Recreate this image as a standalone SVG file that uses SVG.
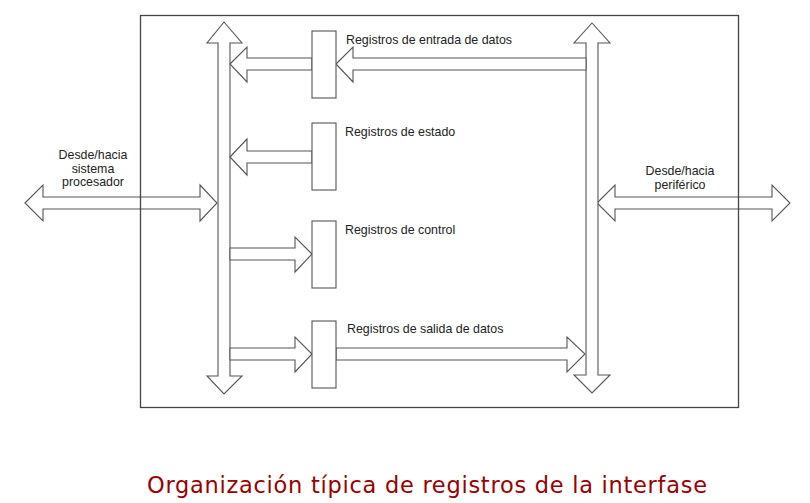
<svg xmlns="http://www.w3.org/2000/svg" width="810" height="503" viewBox="0 0 810 503">
<style>
.ar{fill:#fff;stroke:#555;stroke-width:1.1;stroke-linejoin:miter}
.box{fill:#fff;stroke:#555;stroke-width:1.1}
.frame{fill:none;stroke:#444;stroke-width:1.3}
.lbl{font-family:"Liberation Sans",Arial,sans-serif;font-size:12.4px;fill:#222}
.cap{font-family:"DejaVu Sans",Verdana,sans-serif;font-size:22.5px;fill:#990000}
</style>
<rect width="810" height="503" fill="#fff"/>
<g id="connectors">
<polygon class="ar" points="25,203 43,185 43,197 200,197 200,185 217,203 200,221 200,209 43,209 43,221"/>
<polygon class="ar" points="597,203 615,185 615,197 772,197 772,185 790,203 772,221 772,209 615,209 615,221"/>
<polygon class="ar" points="224,22 242,43 230,43 230,376 242,376 224,394 207,376 218,376 218,43 207,43"/>
<polygon class="ar" points="592,23 610,43 598,43 598,375 610,375 592,393 574,375 586,375 586,43 574,43"/>
<polygon class="ar" points="230,64 247,47 247,58 312,58 312,70 247,70 247,82"/>
<polygon class="ar" points="336,64 353,47 353,58 586,58 586,70 353,70 353,82"/>
<polygon class="ar" points="230,157 247,139 247,151 312,151 312,163 247,163 247,175"/>
<polygon class="ar" points="230,248 295,248 295,237 312,254 295,272 295,260 230,260"/>
<polygon class="ar" points="230,348 295,348 295,337 312,354 295,372 295,360 230,360"/>
<polygon class="ar" points="336,348 567,348 567,337 585,354 567,372 567,360 336,360"/>
</g>
<g id="reg-entrada"><rect class="box" x="312" y="31" width="24" height="67"/><text class="lbl" x="346" y="44">Registros de entrada de datos</text></g>
<g id="reg-estado"><rect class="box" x="312" y="123" width="24" height="67"/><text class="lbl" x="345" y="136">Registros de estado</text></g>
<g id="reg-control"><rect class="box" x="312" y="221" width="24" height="67"/><text class="lbl" x="345" y="234">Registros de control</text></g>
<g id="reg-salida"><rect class="box" x="312" y="321" width="24" height="67"/><text class="lbl" x="347" y="333">Registros de salida de datos</text></g>
<g id="proc-label"><text class="lbl" text-anchor="middle" x="93" y="159">Desde/hacia</text><text class="lbl" text-anchor="middle" x="93" y="172.5">sistema</text><text class="lbl" text-anchor="middle" x="93" y="186">procesador</text></g>
<g id="per-label"><text class="lbl" text-anchor="middle" x="680" y="175">Desde/hacia</text><text class="lbl" text-anchor="middle" x="680" y="189">periférico</text></g>
<g id="frame"><rect class="frame" x="140.5" y="15.5" width="598" height="392"/></g>
<text class="cap" x="147" y="493" textLength="560" lengthAdjust="spacing">Organización típica de registros de la interfase</text>
</svg>
